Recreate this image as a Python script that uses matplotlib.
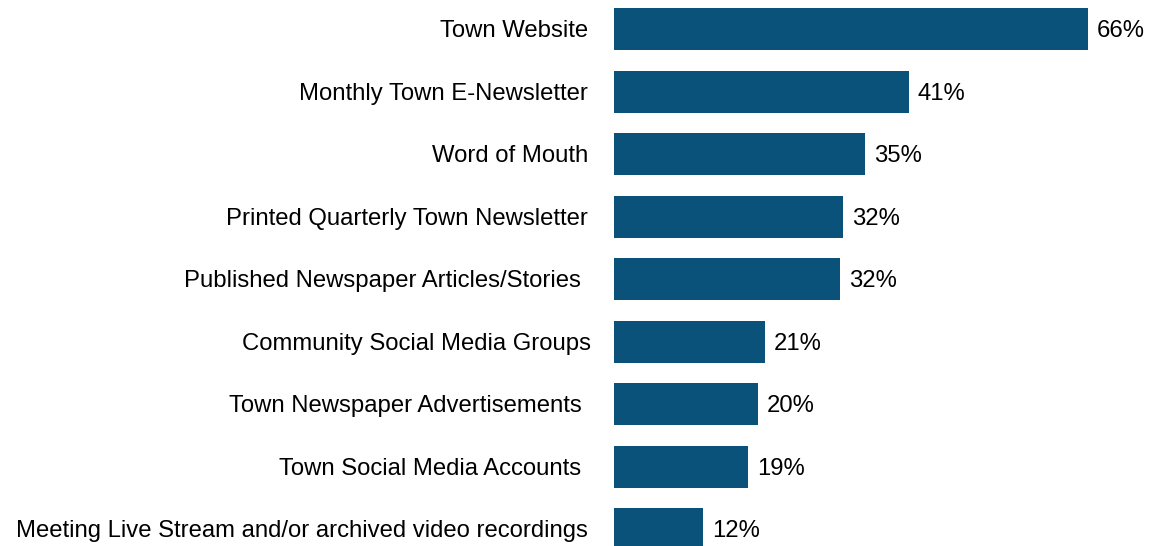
import matplotlib
matplotlib.use("Agg")
import matplotlib.pyplot as plt
from matplotlib import font_manager

channels = [
    "Town Website",
    "Monthly Town E-Newsletter",
    "Word of Mouth",
    "Printed Quarterly Town Newsletter",
    "Published Newspaper Articles/Stories ",
    "Community Social Media Groups",
    "Town Newspaper Advertisements ",
    "Town Social Media Accounts ",
    "Meeting Live Stream and/or archived video recordings",
]
values = [66.0, 41.1, 35.0, 31.9, 31.5, 21.0, 20.1, 18.7, 12.4]
value_labels = ["66%", "41%", "35%", "32%", "32%", "21%", "20%", "19%", "12%"]

bar_color = "#0A527A"
names = [f.name for f in font_manager.fontManager.ttflist]
narrow = "Liberation Sans Narrow" if "Liberation Sans Narrow" in names else "Liberation Sans"
plt.rcParams["font.family"] = ["Liberation Sans", "DejaVu Sans"]

fig = plt.figure(figsize=(11.52, 5.46), dpi=100)
ax = fig.add_axes([614 / 1152, 0, 538 / 1152, 1])

pos = list(range(len(channels)))
ax.barh(pos, values, height=0.672, color=bar_color)
ax.set_xlim(0, 538 / 7.18)
ax.set_ylim(8.272, -0.464)

# text sits a touch lower than the bar centre in the original
dy = 0.035
for p, v, lab in zip(pos, values, value_labels):
    ax.text(v + 1.2, p + dy, lab, va="center", ha="left", fontsize=17.2, color="black")

for p, name in zip(pos, channels):
    fam = narrow if p == len(channels) - 1 else "Liberation Sans"
    x = -23 / 7.18 if p == 5 else -26 / 7.18
    ax.text(x, p + dy, name, va="center", ha="right", fontsize=17.2,
            family=fam, color="black")

ax.set_xticks([])
ax.set_yticks([])
for s in ax.spines.values():
    s.set_visible(False)

fig.savefig("out.png", dpi=100)
